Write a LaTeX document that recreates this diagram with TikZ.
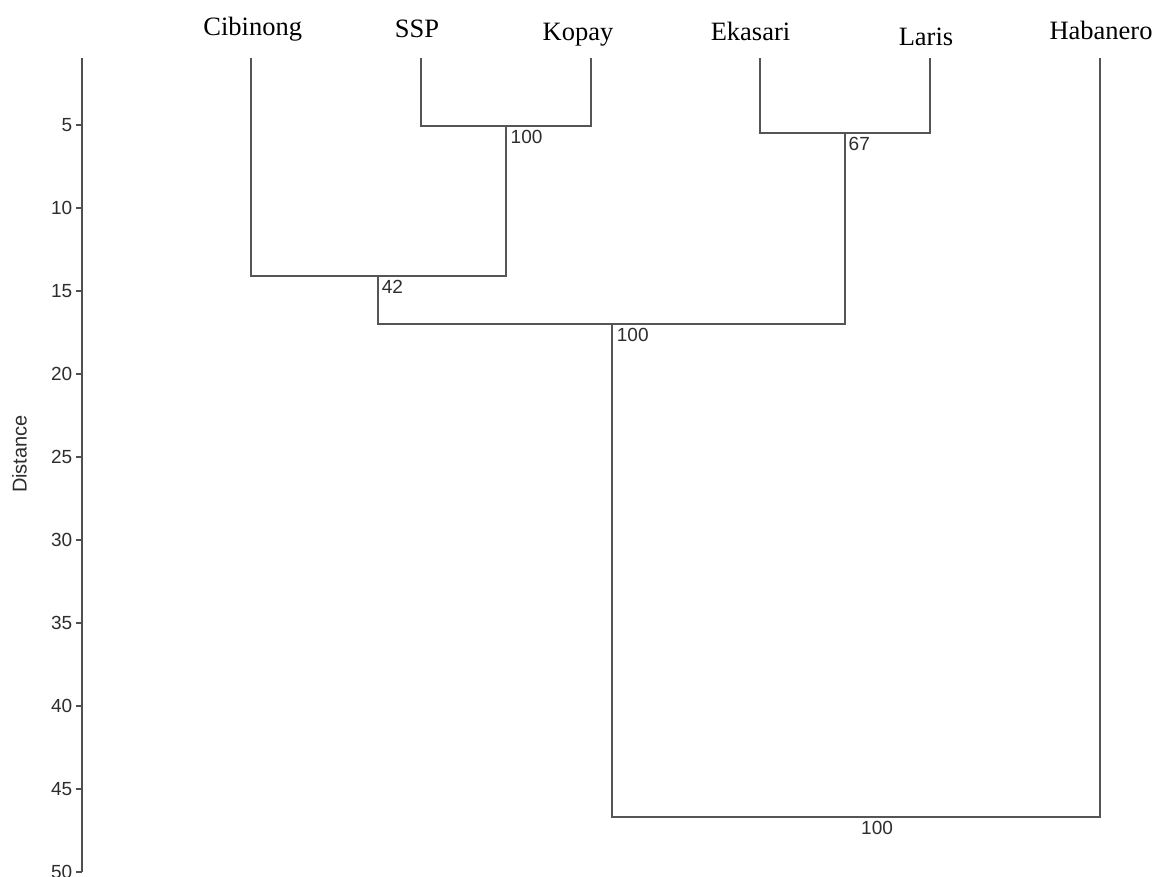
\documentclass[tikz,border=0pt]{standalone}
\usepackage{fontspec}
\setmainfont{Liberation Serif}
\newfontfamily\arialf{Liberation Sans}
\definecolor{treeline}{RGB}{85,85,85}
\definecolor{axisline}{RGB}{80,80,80}
\definecolor{numtext}{RGB}{45,45,45}
\begin{document}
\begin{tikzpicture}[x=1pt,y=-1pt,
  branch/.style={draw=treeline,line width=1.4pt},
  axisstyle/.style={draw=axisline,line width=1.6pt},
  leaflabel/.style={anchor=base,inner sep=0pt,font=\fontsize{26.5}{30}\selectfont},
  numlabel/.style={anchor=west,inner sep=0pt,text=numtext,font=\arialf\fontsize{19}{22}\selectfont},
  ticklabel/.style={anchor=east,inner sep=0pt,text=numtext,font=\arialf\fontsize{19}{22}\selectfont}]
\useasboundingbox (0,0) rectangle (1161,877);
\fill[white] (0,0) rectangle (1161,877);
% axis
\coordinate (atop) at (82,58);
\coordinate (abot) at (82,872);
\draw[axisstyle] (atop) -- (abot);
\foreach \v in {5,10,...,50}{
  \coordinate (tk\v) at (82,42+16.6*\v);
  \draw[axisstyle] (tk\v) -- ++(-6,0) node[ticklabel,xshift=-3pt] {\v};
}
\node[rotate=90,inner sep=0pt,text=numtext,font=\arialf\fontsize{20}{24}\selectfont] (dist) at (19.5,454) {Distance};
% leaf labels
\node[leaflabel] (lC) at (252.7,36) {Cibinong};
\node[leaflabel] (lS) at (417,37.7) {SSP};
\node[leaflabel] (lK) at (578,40.7) {Kopay};
\node[leaflabel] (lE) at (750.5,40.7) {Ekasari};
\node[leaflabel] (lL) at (926,45.7) {Laris};
\node[leaflabel] (lH) at (1101,40) {Habanero};
% leaf tops
\coordinate (tC) at (251,58);
\coordinate (tS) at (421,58);
\coordinate (tK) at (591,58);
\coordinate (tE) at (760,58);
\coordinate (tL) at (930,58);
\coordinate (tH) at (1100,58);
% joins
\coordinate (n1) at (506,126);
\coordinate (n2) at (845,133);
\coordinate (n3) at (378,276);
\coordinate (n4) at (612,324);
\coordinate (n5) at (856,817);
\draw[branch] (tS) |- (n1) -| (tK);
\draw[branch] (tE) |- (n2) -| (tL);
\draw[branch] (tC) |- (n3) -| (n1);
\draw[branch] (n3) |- (n4) -| (n2);
\draw[branch] (n4) |- (n5) -| (tH);
% support values
\node[numlabel] (s1) at (510.5,136.5) {100};
\node[numlabel] (s2) at (848.5,144) {67};
\node[numlabel] (s3) at (381.7,286.7) {42};
\node[numlabel] (s4) at (616.7,334.7) {100};
\node[numlabel] (s5) at (861,828) {100};
\end{tikzpicture}
\end{document}
